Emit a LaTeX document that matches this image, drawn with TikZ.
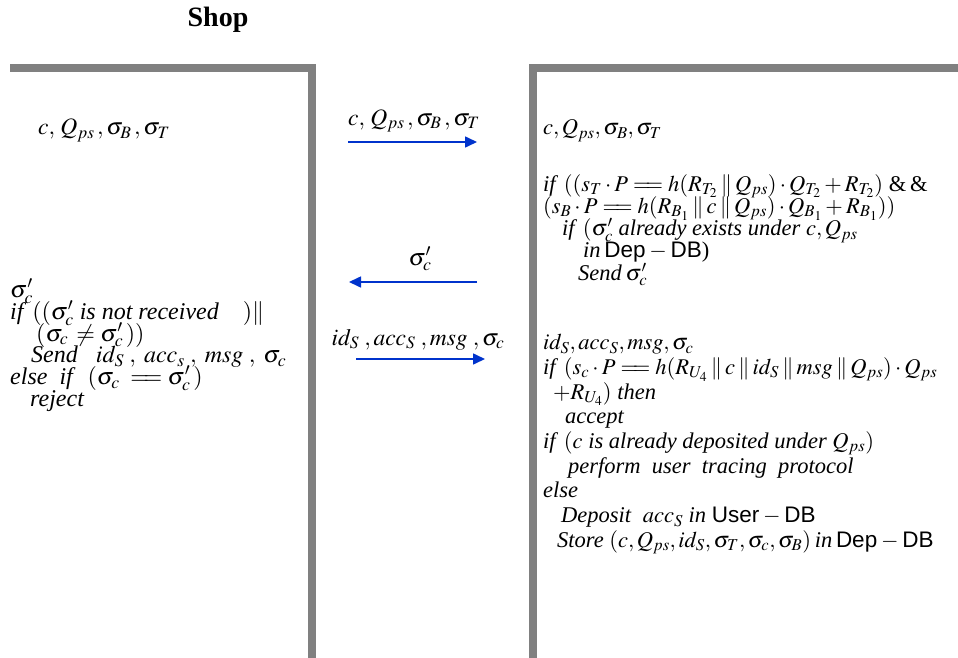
\documentclass[tikz,border=0pt]{standalone}
\usepackage{mathptmx}
\usepackage[no-math]{fontspec}
\setmainfont{Liberation Serif}
\setsansfont{Liberation Sans}
\usetikzlibrary{positioning,arrows.meta}
\definecolor{BarGray}{HTML}{808080}
\definecolor{MsgBlue}{HTML}{0033CC}
\newcommand{\eqq}{=\mathrel{\mkern-4mu}=}
\newcommand{\cat}{\mathbin{\|}}
\newcommand{\tx}[1]{\textit{#1}}
\lineskiplimit=-100pt

\begin{document}
\begin{tikzpicture}[x=1pt,y=-1pt,every node/.style={inner sep=0pt,align=left,font=\fontsize{22.5}{24}\selectfont},
  msg/.style={-{Triangle[length=12pt,width=11pt]},draw=MsgBlue,line width=1.6pt},
  bar/.style={draw=BarGray,line width=8pt}]
  \useasboundingbox (0,0) rectangle (958,658);
  % party columns
  \draw[bar] (10,68) -- (312,68) -- (312,662);
  \draw[bar] (962,68) -- (533,68) -- (533,662);
  \node[anchor=base,font=\bfseries\fontsize{28}{30}\selectfont] (shop) at (218,27) {Shop};

  % shop side
  \node[anchor=base west,font=\fontsize{23.5}{24}\selectfont] (shopIn) at (38,135) {$c,\,Q_{ps}\,,\sigma_B\,,\sigma_T$};
  \node[anchor=north west,font=\fontsize{24}{21.7}\selectfont] (shopChk) at (10,279) {$\sigma'_c$\\
    \tx{if} $((\sigma'_c$ \tx{is not received}\hspace*{24pt}$)\|$\\
    \hspace*{26pt}$(\sigma_c\,\neq\sigma'_c\,))$\\
    \hspace*{21pt}\tx{Send}\ \ \ $id_S\;,\;acc_s\;,\;msg\;,\;\sigma_c$\\
    \tx{else\ \ if}\ \ $(\sigma_c\;\eqq\sigma'_c\,)$\\
    \hspace*{20pt}\tx{reject}};

  % messages
  \node[anchor=base,font=\fontsize{23.5}{24}\selectfont] (msgCoin) at (414,125) {$c,\,Q_{ps}\,,\sigma_B\,,\sigma_T$};
  \coordinate (coinFrom) at (348,142);
  \coordinate (coinTo) at (477,142);
  \draw[msg] (coinFrom) -- (coinTo);
  \node[anchor=base,font=\fontsize{24}{24}\selectfont] (msgSig) at (420,265) {$\sigma'_c$};
  \coordinate (sigFrom) at (477,282);
  \coordinate (sigTo) at (349,282);
  \draw[msg] (sigFrom) -- (sigTo);
  \node[anchor=base,font=\fontsize{23.5}{24}\selectfont] (msgPay) at (418,345) {$id_S\;,acc_S\;,msg\;,\sigma_c$};
  \coordinate (payFrom) at (356,359);
  \coordinate (payTo) at (485,359);
  \draw[msg] (payFrom) -- (payTo);

  % bank side
  \node[anchor=base west] (bankIn) at (543,135) {$c,Q_{ps},\sigma_B,\sigma_T$};
  \node[anchor=north west,font=\fontsize{22.5}{22.3}\selectfont] (bankChk) at (543,174) {\tx{if} $((s_T\cdot P\eqq h(R_{T_2}\cat Q_{ps})\cdot Q_{T_2}+R_{T_2})$ \&\,\&\\
    $(s_B\cdot P\eqq h(R_{B_1}\cat c\cat Q_{ps})\cdot Q_{B_1}+R_{B_1}))$\\
    \hspace*{19pt}\tx{if} $(\sigma'_c$ \tx{already exists under} $c,Q_{ps}$\\
    \hspace*{40pt}\tx{in}\,\textsf{Dep}\,$-$\,\textsf{DB})\\
    \hspace*{35pt}\tx{Send}\,$\sigma'_c$};
  \node[anchor=north west,font=\fontsize{22.5}{24.7}\selectfont] (bankDep) at (543,334) {$id_S,acc_S,msg,\sigma_c$\\
    \tx{if} $(s_c\cdot P\eqq h(R_{U_4}\cat c\cat id_S\cat msg\cat Q_{ps})\cdot Q_{ps}$\\
    \hspace*{10pt}$+R_{U_4})$ \tx{then}\\
    \hspace*{22pt}\tx{accept}\\
    \tx{if} $(c$ \tx{is already deposited under} $Q_{ps})$\\
    \hspace*{25pt}\tx{perform\ \ user\ \ tracing\ \ protocol}\\
    \tx{else}\\
    \hspace*{18pt}\tx{Deposit}\ \ $acc_S$ \tx{in} \textsf{User}\,$-$\,\textsf{DB}\\
    \hspace*{14pt}\tx{Store} $(c,Q_{ps},id_S,\sigma_T,\sigma_c,\sigma_B)$\,\tx{in}\,\textsf{Dep}\,$-$\,\textsf{DB}};
\end{tikzpicture}
\end{document}
